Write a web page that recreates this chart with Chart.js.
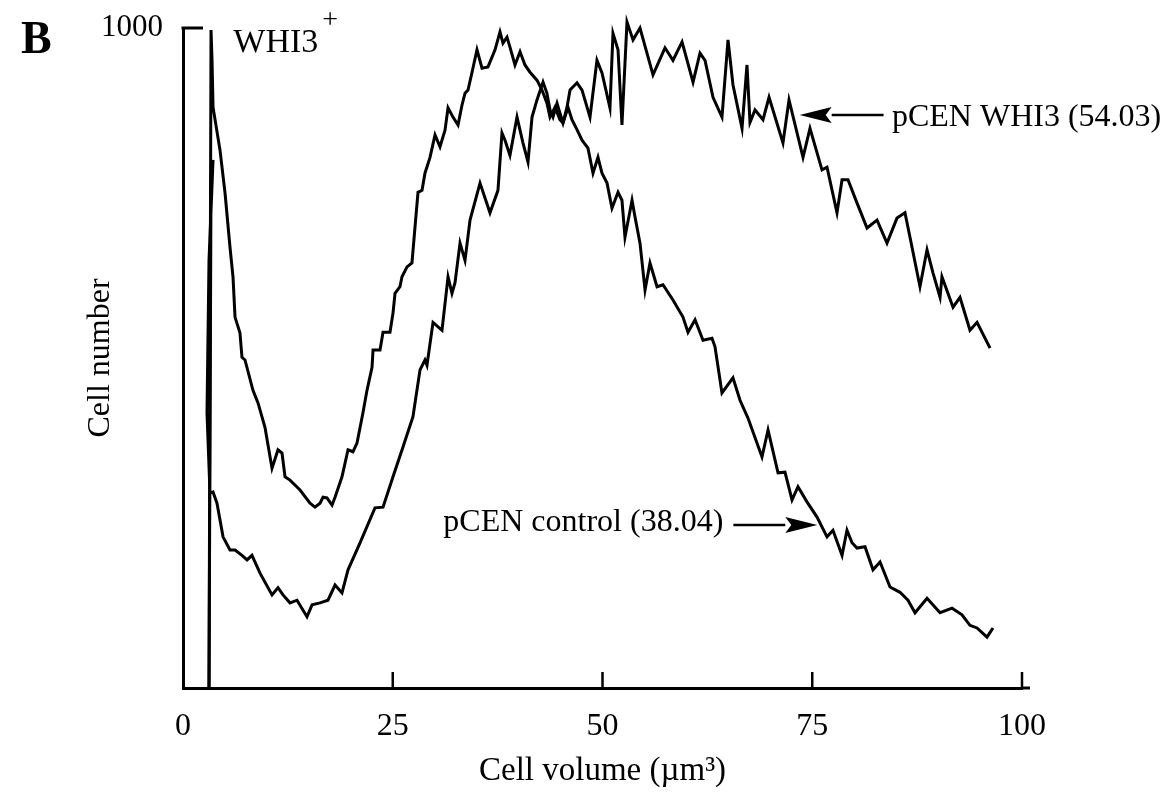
<!DOCTYPE html>
<html>
<head>
<meta charset="utf-8">
<title>Cell volume distribution</title>
<script src="https://cdn.jsdelivr.net/npm/chart.js@4.4.1/dist/chart.umd.min.js"></script>
<style>
  html, body { margin: 0; padding: 0; background: #fff; }
  #wrap { position: relative; width: 1163px; height: 792px; }
</style>
</head>
<body>
<div id="wrap">
  <canvas id="chart" width="1163" height="792"></canvas>
</div>
<script>
// x ticks (cell volume, um^3)
const xTicks = [0, 25, 50, 75, 100];
const yTicks = [1000];

// pCEN control (mean 38.04)
const controlX = [3.1, 3.34, 3.46, 3.58, 4.41, 5.01, 5.6, 5.96, 6.2, 6.79, 7.03, 7.39, 8.34, 8.94, 9.77,
  10.61, 11.32, 11.8, 12.16, 12.75, 13.95, 15.14, 15.73, 16.33, 16.69, 17.16, 17.76, 18.12, 18.95, 19.67,
  20.26, 20.74, 21.45, 21.93, 22.53, 22.65, 23.48, 23.84, 24.67, 25.03, 25.27, 25.86, 26.1, 26.7, 27.29,
  27.65, 28.01, 28.49, 28.84, 29.44, 30.04, 30.63, 31.23, 31.59, 32.18, 32.78, 33.25, 33.61, 33.97, 34.45,
  35.04, 35.64, 36.35, 37.19, 37.78, 38.14, 38.62, 38.97, 39.57, 40.17, 40.76, 41.36, 42.19, 42.79, 43.38,
  43.74, 44.34, 44.93, 45.29, 45.89, 46.36, 46.96, 47.56, 48.27, 48.87, 49.46, 49.94, 50.54, 51.13, 51.85,
  52.32, 52.68, 53.52, 53.87, 54.47, 55.07, 55.66, 56.5, 57.21, 58.4, 59.59, 60.19, 61.03, 61.98, 63.05,
  63.41, 64.24, 65.55, 66.39, 67.34, 69.01, 69.73, 70.92, 71.75, 72.59, 73.3, 74.37, 75.57, 76.76, 77.47,
  78.55, 79.14, 79.74, 80.33, 81.29, 82.24, 83.08, 84.27, 85.46, 86.41, 87.25, 88.68, 90.23, 91.66, 92.85,
  93.8, 94.64, 95.83, 96.54];
const controlY = [0, 997, 951, 880, 815, 750, 668, 623, 562, 538, 501, 497, 451, 432, 395,
  333, 361, 356, 320, 315, 300, 280, 274, 280, 289, 288, 277, 289, 320, 361,
  358, 371, 417, 451, 486, 512, 512, 539, 539, 568, 598, 608, 623, 638, 644,
  698, 751, 754, 780, 804, 838, 820, 845, 879, 865, 853, 883, 901, 906, 933,
  967, 939, 941, 967, 994, 977, 986, 971, 944, 964, 944, 933, 921, 906, 886,
  865, 880, 861, 856, 880, 861, 846, 830, 818, 780, 804, 780, 765, 727, 751,
  739, 683, 739, 714, 674, 603, 644, 608, 611, 588, 562, 539, 558, 527, 530,
  517, 447, 470, 436, 409, 350, 391, 326, 327, 285, 305, 282, 259, 229, 239,
  201, 239, 220, 212, 214, 179, 191, 153, 145, 133, 114, 136, 114, 121, 111,
  95, 91, 77, 91];

// pCEN WHI3 (mean 54.03)
const whi3X = [3.1, 3.34, 3.58, 3.1, 2.86, 3.22, 3.58, 4.05, 4.77, 5.6, 6.2, 7.03, 7.63, 8.22, 9.18,
  10.61, 11.32, 11.92, 12.75, 13.59, 14.78, 15.38, 16.33, 17.28, 18.12, 18.95, 19.67, 21.1, 22.88, 23.84,
  25.03, 26.22, 27.41, 28.25, 28.84, 29.08, 29.8, 30.87, 31.59, 32.06, 32.42, 33.02, 33.61, 34.21, 35.4,
  36.59, 37.54, 38.02, 38.38, 38.97, 39.81, 40.52, 41.12, 41.6, 42.19, 42.91, 43.38, 43.74, 44.1, 44.58,
  44.93, 45.29, 45.77, 46.13, 46.96, 47.56, 48.51, 49.34, 49.94, 50.89, 51.25, 51.85, 52.32, 52.92, 53.64,
  54.47, 56.02, 57.45, 58.4, 59.48, 60.79, 61.62, 62.22, 63.17, 64.24, 64.96, 65.55, 66.63, 67.22, 67.58,
  68.18, 69.13, 69.85, 71.51, 72.23, 73.9, 74.73, 76.16, 76.76, 77.95, 78.55, 79.26, 80.33, 81.53, 82.72,
  83.91, 85.1, 86.05, 86.65, 87.84, 88.68, 89.39, 90.23, 90.46, 91.78, 92.61, 93.8, 94.64, 96.19];
const whi3Y = [0, 770, 800, 648, 417, 295, 297, 280, 229, 209, 209, 201, 194, 201, 174,
  141, 152, 141, 129, 133, 108, 126, 129, 133, 156, 144, 179, 220, 273, 274,
  320, 365, 411, 482, 497, 489, 554, 542, 623, 598, 614, 674, 648, 709, 765,
  720, 754, 841, 830, 807, 865, 826, 797, 865, 891, 918, 901, 876, 865, 886,
  871, 856, 880, 906, 917, 906, 865, 951, 932, 879, 992, 967, 853, 1009, 982,
  1000, 929, 970, 951, 979, 918, 962, 951, 895, 865, 982, 914, 848, 944, 857,
  876, 861, 895, 826, 891, 804, 848, 785, 789, 720, 770, 770, 735, 697, 709,
  674, 712, 720, 683, 608, 664, 629, 592, 623, 577, 592, 542, 554, 515];

const serif = "'Liberation Serif', 'Times New Roman', Times, serif";

function toPoints(xs, ys) {
  return xs.map((x, i) => ({ x: x, y: ys[i] }));
}

// text + arrows drawn on top, positioned in data units
const annotate = {
  id: "annotate",
  afterDraw(chart) {
    const ctx = chart.ctx;
    const xs = chart.scales.x;
    const ys = chart.scales.y;
    const px = (v) => xs.getPixelForValue(v);
    const py = (v) => ys.getPixelForValue(v);
    const area = chart.chartArea;

    ctx.save();
    ctx.strokeStyle = "#000";
    ctx.fillStyle = "#000";
    ctx.lineCap = "butt";

    // inward tick marks on x axis
    ctx.lineWidth = 2.5;
    xTicks.slice(1).forEach((v) => {
      ctx.beginPath();
      ctx.moveTo(px(v), area.bottom);
      ctx.lineTo(px(v), area.bottom - 16);
      ctx.stroke();
    });
    // small run of axis past 100
    ctx.lineWidth = 3;
    ctx.beginPath();
    ctx.moveTo(area.right - 1, area.bottom);
    ctx.lineTo(area.right + 8, area.bottom);
    ctx.stroke();
    // tick at 1000 pointing into the plot
    ctx.beginPath();
    ctx.moveTo(area.left - 1.5, py(1000));
    ctx.lineTo(area.left + 20, py(1000));
    ctx.stroke();

    // panel letter
    ctx.font = "bold 46px " + serif;
    ctx.textAlign = "left";
    ctx.textBaseline = "alphabetic";
    ctx.fillText("B", 21, 53);

    // strain label
    ctx.font = "34px " + serif;
    ctx.fillText("WHI3", px(6.0), py(964));
    const w = ctx.measureText("WHI3").width;
    ctx.font = "28px " + serif;
    ctx.fillText("+", px(6.0) + w + 4, py(964) - 24);

    // arrows
    function arrow(x0, x1, y, dir) {
      const tip = px(x1);
      const yy = py(y);
      const base = tip - dir * 32;
      ctx.lineWidth = 2.5;
      ctx.beginPath();
      ctx.moveTo(px(x0), yy);
      ctx.lineTo(base, yy);
      ctx.stroke();
      ctx.beginPath();
      ctx.moveTo(tip, yy);
      ctx.lineTo(base, yy - 8);
      ctx.lineTo(base + dir * 6, yy);
      ctx.lineTo(base, yy + 8);
      ctx.closePath();
      ctx.fill();
    }
    arrow(83.5, 73.5, 868, -1);
    arrow(65.6, 75.6, 247, 1);

    ctx.font = "32px " + serif;
    ctx.textBaseline = "middle";
    ctx.textAlign = "left";
    ctx.fillText("pCEN WHI3 (54.03)", px(84.5), py(865));
    ctx.textAlign = "right";
    ctx.fillText("pCEN control (38.04)", px(64.4), py(250));
    ctx.restore();
  },
};

new Chart(document.getElementById("chart"), {
  type: "line",
  data: {
    datasets: [
      {
        label: "pCEN control (38.04)",
        data: toPoints(controlX, controlY),
        borderColor: "#000",
        borderWidth: 3,
        pointRadius: 0,
        tension: 0,
        clip: false,
      },
      {
        label: "pCEN WHI3 (54.03)",
        data: toPoints(whi3X, whi3Y),
        borderColor: "#000",
        borderWidth: 3,
        pointRadius: 0,
        tension: 0,
        clip: false,
      },
    ],
  },
  options: {
    responsive: false,
    animation: false,
    devicePixelRatio: 1,
    layout: { padding: { left: 0, right: 141, top: 28, bottom: 0 } },
    plugins: {
      legend: { display: false },
      tooltip: { enabled: false },
    },
    scales: {
      x: {
        type: "linear",
        min: 0,
        max: 100,
        afterBuildTicks: (scale) => {
          scale.ticks = xTicks.map((v) => ({ value: v }));
        },
        afterFit: (scale) => {
          scale.height = 104;
          scale.paddingLeft = 0;
          scale.paddingRight = 0;
        },
        grid: { display: false },
        border: { display: true, color: "#000", width: 3 },
        ticks: {
          color: "#000",
          padding: 11,
          maxRotation: 0,
          font: { family: serif, size: 32 },
          callback: (v) => String(v),
        },
        title: {
          display: true,
          text: "Cell volume (\u00b5m\u00b3)",
          color: "#000",
          padding: { top: 0, bottom: 1 },
          font: { family: serif, size: 33 },
        },
      },
      y: {
        type: "linear",
        min: 0,
        max: 1000,
        afterBuildTicks: (scale) => {
          scale.ticks = yTicks.map((v) => ({ value: v }));
        },
        afterFit: (scale) => {
          scale.width = 183;
          scale.paddingTop = 0;
          scale.paddingBottom = 0;
        },
        grid: { display: false },
        border: { display: true, color: "#000", width: 3 },
        ticks: {
          color: "#000",
          padding: 12,
          font: { family: serif, size: 31 },
          callback: (v) => String(v),
        },
        title: {
          display: true,
          text: "Cell number",
          color: "#000",
          padding: { top: 81, bottom: 0 },
          font: { family: serif, size: 32 },
        },
      },
    },
  },
  plugins: [annotate],
});
</script>
</body>
</html>
